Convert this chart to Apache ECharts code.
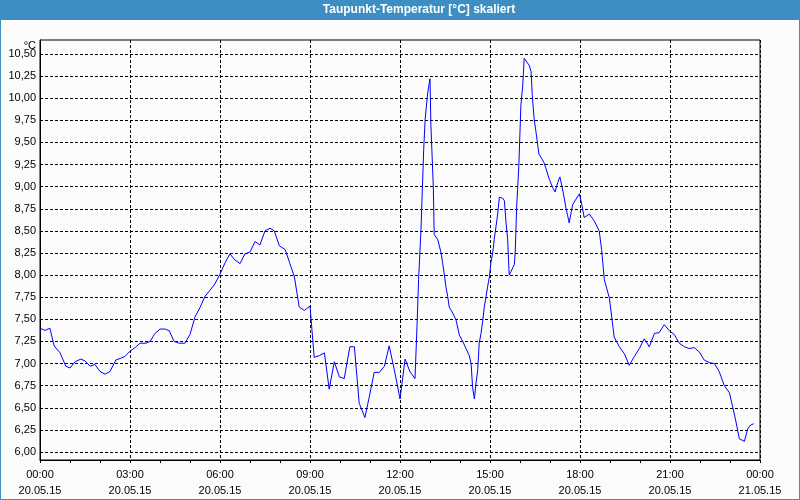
<!DOCTYPE html>
<html>
<head>
<meta charset="utf-8">
<script src="https://cdn.jsdelivr.net/npm/echarts@6/dist/echarts.min.js"></script>
<style>
html,body{margin:0;padding:0;background:#fbfcfb;}
#chart{width:800px;height:500px;}
</style>
</head>
<body>
<div id="chart"></div>
<script>
// Time of day in hours (20.05.15)
const hours = [
0.0,0.17,0.33,0.47,0.67,0.86,1.0,1.17,1.36,1.5,1.67,1.83,2.0,2.17,2.33,2.53,2.69,2.83,
3.0,3.17,3.33,3.53,3.67,3.83,4.0,4.17,4.31,4.47,4.64,4.83,5.0,5.17,5.33,5.5,5.67,5.83,
6.0,6.17,6.33,6.5,6.67,6.83,7.0,7.17,7.33,7.5,7.67,7.81,7.98,8.17,8.33,8.48,8.64,8.81,
9.0,9.14,9.31,9.48,9.64,9.81,9.98,10.14,10.33,10.48,10.64,10.83,10.98,11.14,11.31,11.48,11.64,11.81,
12.0,12.17,12.33,12.5,12.57,12.62,12.7,12.73,12.79,12.84,12.92,12.96,13.0,13.03,13.07,13.11,13.14,13.2,13.26,13.31,13.37,13.42,13.48,13.53,13.59,13.64,13.76,13.87,13.98,
14.09,14.2,14.31,14.37,14.42,14.48,14.53,14.59,14.64,14.7,14.76,14.81,14.87,14.92,14.98,
15.03,15.09,15.14,15.2,15.26,15.31,15.42,15.48,15.53,15.59,15.64,15.7,15.81,15.84,15.89,15.92,15.96,
16.03,16.09,16.14,16.2,16.31,16.37,16.41,16.47,16.52,16.58,16.63,16.74,16.8,16.87,16.98,
17.09,17.17,17.26,17.33,17.4,17.48,17.53,17.59,17.64,17.7,17.76,17.87,17.98,
18.07,18.14,18.31,18.48,18.64,18.72,18.81,18.98,19.07,19.14,19.31,19.48,19.64,19.81,19.98,
20.14,20.31,20.48,20.64,20.81,20.98,21.14,21.31,21.48,21.64,21.81,21.98,
22.14,22.31,22.48,22.64,22.81,22.98,23.09,23.2,23.31,23.48,23.59,23.67,23.79
];
// Dew point temperature in °C
const dewpoint = [
7.40,7.375,7.40,7.20,7.12,6.97,6.95,7.02,7.05,7.03,6.97,6.99,6.91,6.88,6.91,7.04,7.06,7.08,
7.14,7.18,7.23,7.23,7.25,7.34,7.39,7.39,7.37,7.25,7.23,7.23,7.33,7.53,7.63,7.76,7.83,7.90,
8.01,8.14,8.24,8.17,8.13,8.24,8.26,8.38,8.34,8.50,8.53,8.50,8.33,8.29,8.13,7.98,7.64,7.60,
7.65,7.07,7.09,7.12,6.71,7.02,6.85,6.83,7.19,7.19,6.55,6.39,6.63,6.90,6.90,6.97,7.20,6.93,
6.60,7.05,6.91,6.83,7.45,7.95,8.52,8.82,9.42,9.77,10.05,10.14,10.22,9.69,9.35,9.00,8.46,8.44,8.40,8.38,8.25,8.14,8.00,7.87,7.76,7.64,7.57,7.49,7.32,
7.25,7.17,7.09,7.00,6.73,6.60,6.77,6.92,7.23,7.34,7.49,7.64,7.76,7.87,7.98,
8.14,8.25,8.40,8.55,8.70,8.88,8.87,8.84,8.61,8.40,8.00,8.04,8.12,8.25,8.78,8.97,9.23,
9.92,10.14,10.45,10.43,10.37,10.30,10.03,9.77,9.65,9.50,9.37,9.31,9.27,9.20,9.08,
8.99,8.94,9.05,9.11,9.00,8.86,8.76,8.67,8.59,8.70,8.80,8.86,8.92,
8.78,8.65,8.69,8.61,8.50,8.29,7.95,7.74,7.49,7.30,7.19,7.11,6.98,7.08,7.17,
7.28,7.19,7.34,7.35,7.44,7.37,7.33,7.23,7.19,7.17,7.18,7.13,
7.04,7.01,7.00,6.91,6.75,6.67,6.51,6.34,6.15,6.12,6.26,6.30,6.32
];
// Y tick values
const yTicks = [6.00,6.25,6.50,6.75,7.00,7.25,7.50,7.75,8.00,8.25,8.50,8.75,9.00,9.25,9.50,9.75,10.00,10.25,10.50];
// X tick labels (time, date)
const xTimeLabels = ['00:00','03:00','06:00','09:00','12:00','15:00','18:00','21:00','00:00'];
const xDateLabels = ['20.05.15','20.05.15','20.05.15','20.05.15','20.05.15','20.05.15','20.05.15','20.05.15','21.05.15'];

const FONT = '"Liberation Sans", Arial, sans-serif';
const chart = echarts.init(document.getElementById('chart'), null, {renderer:'canvas'});
const seriesData = hours.map((h, i) => [h, dewpoint[i]]);

chart.setOption({
  animation: false,
  backgroundColor: '#fbfcfb',
  grid: {left: 40, top: 40, width: 720, height: 420, show: true, borderColor: '#000', borderWidth: 1, backgroundColor: 'transparent'},
  xAxis: {
    type: 'value', min: 0, max: 24, interval: 3,
    axisLine: {show: true, lineStyle: {color: '#000', width: 1}},
    axisTick: {show: true, length: 3, lineStyle: {color: '#000'}},
    minorTick: {show: true, splitNumber: 3, length: 3, lineStyle: {color: '#000'}},
    splitLine: {show: true, lineStyle: {color: '#000', width: 1, type: [3, 2]}},
    axisLabel: {
      margin: 7, fontSize: 11, lineHeight: 16, color: '#000', fontFamily: FONT,
      formatter: v => { const i = Math.round(v / 3); return xTimeLabels[i] + '\n' + xDateLabels[i]; }
    }
  },
  yAxis: {
    type: 'value', min: 5.9095, max: 10.658,
    axisLine: {show: true, lineStyle: {color: '#000', width: 1}},
    axisTick: {show: false, customValues: yTicks},
    splitLine: {show: true, lineStyle: {color: '#000', width: 1, type: [3, 2]}},
    axisLabel: {
      customValues: yTicks, margin: 4, fontSize: 11, color: '#000', fontFamily: FONT,
      formatter: v => v.toFixed(2).replace('.', ',')
    }
  },
  graphic: [
    {type: 'rect', shape: {x: 0, y: 0, width: 800, height: 20}, style: {fill: '#3d8fc3'}, z: 10},
    {type: 'rect', shape: {x: 0, y: 0, width: 1, height: 500}, style: {fill: '#3d8fc3'}, z: 10},
    {type: 'rect', shape: {x: 799, y: 0, width: 1, height: 500}, style: {fill: '#3d8fc3'}, z: 10},
    {type: 'rect', shape: {x: 0, y: 499, width: 800, height: 1}, style: {fill: '#3d8fc3'}, z: 10},
    {type: 'text', x: 419, y: 10, z: 11, style: {text: 'Taupunkt-Temperatur [°C] skaliert', fill: '#fff', font: 'bold 12px ' + FONT, textAlign: 'center', textVerticalAlign: 'middle'}},
    {type: 'text', x: 36, y: 46, z: 11, style: {text: '°C', fill: '#000', font: '11px ' + FONT, textAlign: 'right', textVerticalAlign: 'middle'}}
  ],
  series: [{
    type: 'line', data: seriesData, showSymbol: false, symbol: 'none',
    lineStyle: {color: '#0000ff', width: 1}, z: 5
  }]
});
</script>
</body>
</html>
